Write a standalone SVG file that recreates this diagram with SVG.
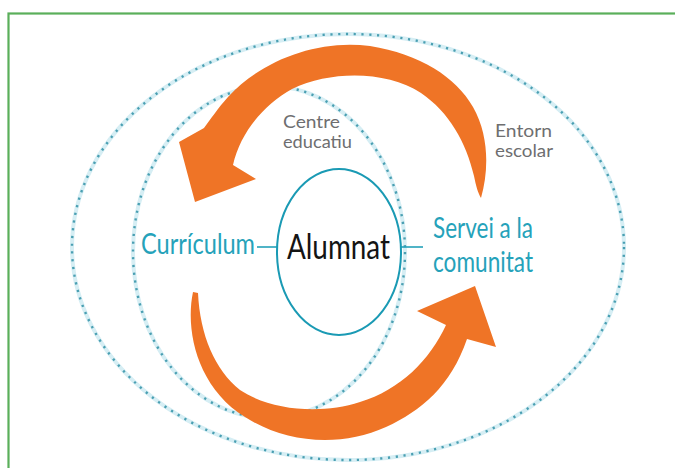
<svg xmlns="http://www.w3.org/2000/svg" width="675" height="468" viewBox="0 0 675 468">
<style>
.halo{fill:none;stroke:#d6eef4;stroke-width:4}
.dot{fill:none;stroke:#4a9fb2;stroke-width:2.4;stroke-dasharray:2.2 5.6}
.arrow{fill:#ef7426}
.teal{font-family:Lato,"Liberation Sans",sans-serif;fill:#25a2ba}
.gray{font-family:Lato,"Liberation Sans",sans-serif;fill:#6e6e70;font-size:18px}
</style>
<rect x="0" y="0" width="675" height="468" fill="#ffffff"/>
<rect x="8.5" y="13.5" width="700" height="500" fill="none" stroke="#5aaf5a" stroke-width="2.2"/>
<g id="entorn-escolar">
<ellipse class="halo" cx="348" cy="247" rx="276" ry="213"/>
<ellipse class="dot" cx="348" cy="247" rx="276" ry="213"/>
<text class="gray" x="495" y="137" textLength="57" lengthAdjust="spacingAndGlyphs">Entorn</text>
<text class="gray" x="495" y="157" textLength="58" lengthAdjust="spacingAndGlyphs">escolar</text>
</g>
<g id="centre-educatiu">
<ellipse class="halo" cx="269" cy="252" rx="136" ry="166"/>
<ellipse class="dot" cx="269" cy="252" rx="136" ry="166"/>
<text class="gray" x="283" y="128" textLength="57" lengthAdjust="spacingAndGlyphs">Centre</text>
<text class="gray" x="283" y="148" textLength="69" lengthAdjust="spacingAndGlyphs">educatiu</text>
</g>
<g id="arrows">
<path class="arrow" d="M 481,198 C 489,170 489,135 473,107 C 456,77 420,54 370,46 C 318,39 262,60 228,97 C 218,108 210,120 204,128 L 179,142 L 195,202 L 256,179 L 233,165 C 240,134 262,106 292,89 C 332,70 387,71 421,93 C 449,112 466,142 474,176 C 476,186 478,193 481,198 Z"/>
<path class="arrow" d="M 193,292 C 185,330 197,387 245,417 C 285,443 340,448 386,427 C 421,411 451,386 467,339 L 496,347 L 475,286 L 417,311 L 446,325 C 430,360 400,390 360,402 C 320,415 270,410 240,390 C 215,370 200,335 198,293 Z"/>
</g>
<g id="connectors" stroke="#25a2ba" stroke-width="1.6">
<line x1="257" y1="247" x2="278" y2="247"/>
<line x1="401" y1="247" x2="423" y2="247"/>
</g>
<g id="alumnat">
<ellipse cx="339" cy="252" rx="62" ry="83" fill="none" stroke="#1a9ab4" stroke-width="2"/>
<text x="287" y="259" font-family="Lato,'Liberation Sans',sans-serif" font-size="35" fill="#141414" textLength="103" lengthAdjust="spacingAndGlyphs">Alumnat</text>
</g>
<g id="curriculum">
<text class="teal" x="141" y="254" font-size="29" textLength="114" lengthAdjust="spacingAndGlyphs">Currículum</text>
</g>
<g id="servei">
<text class="teal" x="433" y="238" font-size="28" textLength="100" lengthAdjust="spacingAndGlyphs">Servei a la</text>
<text class="teal" x="433" y="272" font-size="28" textLength="100" lengthAdjust="spacingAndGlyphs">comunitat</text>
</g>
</svg>
